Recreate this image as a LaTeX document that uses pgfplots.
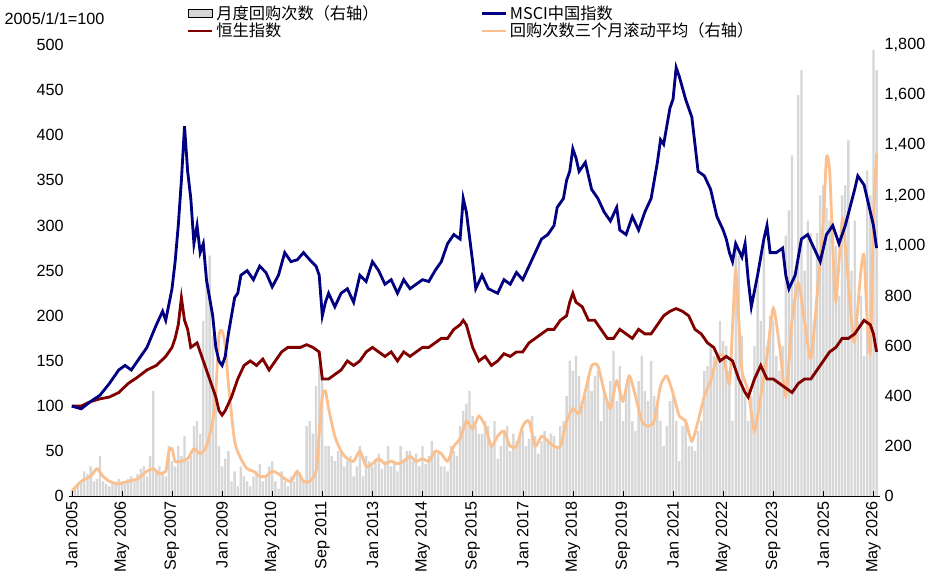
\documentclass[border=0pt]{standalone}
\usepackage{pgfplots}
\usepackage{pgfplotstable}
\pgfplotsset{compat=1.18}
\usepackage{fontspec}
\setmainfont{Liberation Sans}
\newfontfamily\cjk{Noto Sans CJK SC}
\definecolor{navy}{RGB}{0,0,128}
\definecolor{dred}{RGB}{128,0,0}
\definecolor{peach}{RGB}{250,192,143}
\definecolor{barg}{RGB}{215,215,215}
\pgfplotstableread{
y
20
40
50
60
100
90
120
60
70
160
60
50
40
60
50
70
60
60
70
80
60
90
110
120
80
160
420
100
120
100
80
200
140
120
200
160
240
140
160
280
300
250
700
900
960
640
380
200
120
150
180
60
100
40
120
80
60
40
80
100
130
60
80
120
140
60
30
100
60
40
80
60
100
80
60
280
300
250
440
520
480
200
200
160
140
180
180
120
140
160
80
120
200
80
160
140
120
150
170
110
140
200
120
140
100
200
150
180
180
140
170
120
200
130
160
220
180
170
120
120
100
200
180
160
280
340
370
420
320
280
250
250
300
280
200
300
150
200
260
280
180
250
220
240
260
200
230
320
240
170
220
260
230
250
240
190
280
300
400
540
500
560
480
360
400
480
420
480
500
300
420
370
460
580
380
520
300
420
460
300
260
460
560
420
380
540
400
360
300
200
280
380
420
300
140
280
310
200
200
180
260
300
500
520
600
560
540
700
620
600
500
300
1000
960
640
400
300
400
600
860
700
1020
600
720
700
560
500
600
1040
1140
1360
900
1600
1700
900
1100
1050
700
1050
1200
1240
1150
1100
1000
1000
800
1200
1240
1420
900
1100
700
800
560
1300
1200
1780
1700
}\bars
\begin{document}
\begin{tikzpicture}[font=\fontsize{11.5}{13}\selectfont]
\begin{axis}[
  scale only axis, width=575pt, height=320pt,
  xmin=-1, xmax=258, ymin=0, ymax=1800,
  axis y line*=right, axis x line=none,
  ytick={0,200,...,1800},
  y tick label style={/pgf/number format/1000 sep={,}},
  /pgf/number format/assume math mode=true,
  major tick length=0pt,
  axis line style={draw=none},
  legend columns=2,
  legend style={draw=none, fill=none, at={(0.14,1.0)}, anchor=south west,
    /tikz/every even column/.append style={column sep=70pt}, row sep=-3pt,
    font=\cjk\fontsize{11.5}{13}\selectfont},
  legend cell align=left,
]
\addplot[ybar, bar width=0.75, bar shift=0pt, fill=barg, draw=none, area legend] table[x expr=\coordindex, y=y]{\bars};
\addlegendentry{月度回购次数（右轴）}
\addlegendimage{navy, line width=2pt}
\addlegendentry{MSCI中国指数}
\addlegendimage{dred, line width=2pt}
\addlegendentry{恒生指数}
\addplot[peach, line width=2pt, smooth, tension=0.4] coordinates {
(0,20)(3,60)(6,80)(8,110)(10,80)(12,60)(15,50)(18,60)(21,70)(24,100)(26,110)(28,90)(30,100)(31,180)(32,190)(33,140)(35,140)(37,150)(39,190)(41,170)(43,200)(45,300)(46,420)(47,640)(48,660)(49,600)(50,450)(52,220)(54,150)(56,110)(58,100)(60,80)(62,80)(64,100)(66,90)(68,70)(70,60)(72,100)(74,60)(76,60)(78,100)(79,250)(80,400)(81,420)(82,350)(84,240)(86,180)(88,150)(90,140)(92,180)(94,120)(96,130)(98,150)(100,130)(102,140)(104,130)(106,140)(108,160)(110,140)(112,150)(114,140)(116,180)(118,170)(120,140)(122,200)(124,230)(126,300)(128,270)(130,320)(132,280)(134,200)(136,240)(138,260)(140,200)(142,200)(144,280)(146,300)(148,200)(150,240)(152,220)(154,200)(156,200)(158,300)(160,350)(162,330)(164,420)(166,520)(168,520)(170,420)(172,350)(174,460)(176,380)(178,480)(180,400)(182,300)(184,280)(186,300)(188,440)(190,480)(192,410)(194,320)(196,300)(198,220)(200,300)(202,400)(204,460)(206,550)(208,560)(210,450)(211,680)(212,900)(213,700)(214,500)(216,420)(218,260)(220,400)(222,560)(224,750)(226,600)(228,400)(230,700)(232,850)(234,700)(236,550)(238,800)(240,1100)(241,1350)(242,1300)(243,1000)(244,780)(246,1100)(247,1000)(249,700)(250,620)(252,900)(253,960)(254,700)(255,580)(256,1100)(257,1370)};
\addlegendentry{回购次数三个月滚动平均（右轴）}
\end{axis}
\begin{axis}[
  scale only axis, width=575pt, height=320pt,
  xmin=-1, xmax=258, ymin=0, ymax=500,
  axis y line*=left, axis x line*=bottom,
  ytick={0,50,...,500},
  xtick={0,16,...,256},
  xticklabels={Jan 2005,May 2006,Sep 2007,Jan 2009,May 2010,Sep 2011,Jan 2013,May 2014,Sep 2015,Jan 2017,May 2018,Sep 2019,Jan 2021,May 2022,Sep 2023,Jan 2025,May 2026},
  x tick label style={rotate=90, anchor=east},
  /pgf/number format/assume math mode=true,
  y axis line style={draw=none},
  x axis line style={draw=black, -},
  ytick style={draw=none},
  xtick style={draw=black},
  major tick length=4pt,
  clip=false,
]
\node[anchor=south west] at (rel axis cs:-0.085,1.035) {2005/1/1=100};
\addplot[dred, line width=2pt] coordinates {
(0,100)(3,100)(6,105)(9,108)(12,110)(15,115)(18,125)(21,132)(24,140)(27,145)(30,155)(32,165)(33,175)(34,190)(35,220)(36,195)(37,185)(38,165)(40,170)(42,150)(44,130)(46,110)(47,95)(48,90)(49,95)(51,110)(53,130)(55,145)(57,150)(59,145)(61,152)(63,140)(65,150)(67,160)(69,165)(71,165)(73,165)(75,168)(77,165)(79,160)(80,130)(82,130)(84,135)(86,140)(88,150)(90,145)(92,150)(94,160)(96,165)(98,160)(100,155)(102,160)(104,150)(106,160)(108,155)(110,160)(112,165)(114,165)(116,170)(118,175)(120,175)(122,185)(124,190)(125,195)(126,190)(128,165)(130,150)(132,155)(134,145)(136,150)(138,158)(140,155)(142,160)(144,160)(146,170)(148,175)(150,180)(152,185)(154,185)(156,195)(158,200)(159,215)(160,225)(161,215)(163,210)(165,195)(167,195)(169,185)(171,175)(173,175)(175,185)(177,180)(179,175)(181,185)(183,180)(185,180)(187,190)(189,200)(191,205)(193,208)(195,205)(197,200)(199,185)(201,180)(203,170)(205,165)(207,150)(209,155)(211,150)(213,130)(215,115)(216,110)(218,130)(220,145)(222,130)(224,130)(226,125)(228,120)(230,115)(232,125)(234,130)(236,130)(238,140)(240,150)(242,160)(244,165)(246,175)(248,175)(250,180)(252,190)(253,195)(255,190)(256,180)(257,160)};
\addplot[navy, line width=2pt] coordinates {
(0,100)(3,97)(6,105)(9,112)(12,125)(15,140)(17,145)(19,140)(22,155)(24,165)(27,190)(29,205)(30,195)(32,230)(33,260)(34,300)(35,350)(36,410)(37,360)(38,330)(39,280)(40,300)(41,270)(42,280)(43,240)(44,220)(45,200)(46,165)(47,150)(48,145)(49,155)(50,180)(51,200)(52,220)(53,225)(54,245)(56,250)(58,240)(60,255)(62,248)(64,232)(66,245)(68,270)(70,260)(72,262)(74,270)(76,262)(78,255)(79,245)(80,200)(81,215)(82,225)(84,210)(86,225)(88,230)(90,215)(92,245)(94,238)(96,260)(98,250)(100,235)(102,240)(104,225)(106,240)(108,230)(110,235)(112,240)(114,238)(116,250)(118,260)(120,280)(122,290)(124,285)(125,330)(126,315)(128,260)(129,230)(131,245)(133,230)(136,225)(138,240)(140,235)(142,248)(144,240)(146,255)(148,270)(150,285)(152,290)(154,300)(155,320)(157,330)(158,350)(159,360)(160,385)(161,375)(162,360)(164,370)(166,340)(168,330)(170,315)(172,305)(174,320)(175,295)(177,290)(179,310)(181,295)(183,315)(185,330)(187,370)(188,395)(189,390)(191,430)(192,440)(193,475)(194,465)(196,440)(198,420)(200,360)(202,355)(204,340)(206,310)(208,295)(209,285)(210,270)(211,260)(212,280)(214,265)(215,280)(216,240)(217,210)(219,245)(221,285)(222,300)(223,270)(225,270)(227,275)(228,245)(229,230)(231,245)(233,285)(235,290)(237,275)(239,260)(241,290)(243,300)(245,280)(247,300)(250,340)(251,355)(253,345)(254,330)(256,300)(257,275)};
\end{axis}
\end{tikzpicture}
\end{document}
